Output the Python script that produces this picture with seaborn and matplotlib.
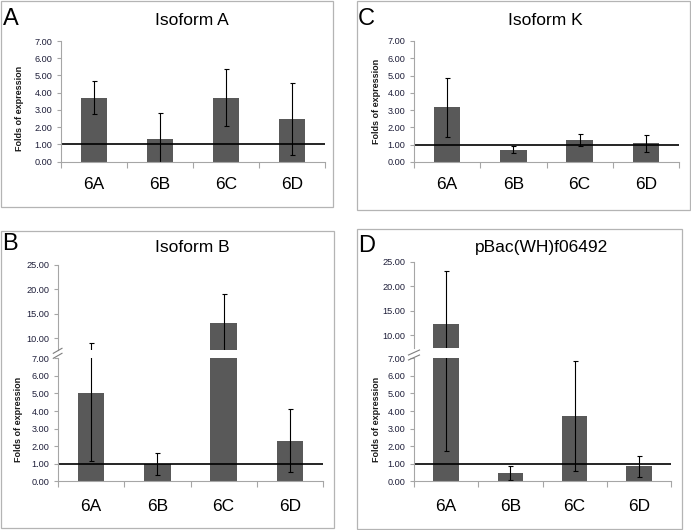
import numpy as np
import pandas as pd
import matplotlib
import matplotlib.pyplot as plt
import seaborn as sns
from matplotlib.lines import Line2D
from matplotlib.patches import Rectangle
from matplotlib.ticker import FormatStrFormatter

matplotlib.use('Agg')

# data
groups = ["6A", "6B", "6C", "6D"]

isoform_a = [3.72, 1.33, 3.72, 2.49]
isoform_a_err = [0.95, 1.47, 1.65, 2.08]

isoform_k = [3.16, 0.70, 1.25, 1.08]
isoform_k_err = [1.72, 0.20, 0.35, 0.50]

isoform_b = [5.04, 0.98, 13.14, 2.31]
isoform_b_err = [3.88, 0.61, 5.96, 1.78]

pbac = [12.40, 0.46, 3.73, 0.85]
pbac_err = [10.70, 0.39, 3.12, 0.60]

low_ticks = list(range(0, 8))
high_ticks = [10, 15, 20, 25]

BAR = "#595959"
AXIS = "#a6a6a6"
TICKTXT = "#1f1f3a"
W, H = 691, 530

plt.rcParams['font.family'] = ['Liberation Sans', 'DejaVu Sans']

fig = plt.figure(figsize=(W / 100, H / 100), dpi=100)


def rect(l, t, r, b):
    return [l / W, 1 - b / H, (r - l) / W, (b - t) / H]


def draw_bars(ax, vals, errs, ylim, ticks, bottom_axis=True):
    df = pd.DataFrame({"group": groups, "fold": vals})
    sns.barplot(data=df, x="group", y="fold", ax=ax, color=BAR, width=0.4,
                saturation=1, errorbar=None, linewidth=0)
    ax.errorbar(np.arange(len(groups)), vals, yerr=errs, fmt="none",
                ecolor="black", elinewidth=0.8, capsize=1.8, capthick=0.8)
    ax.set_facecolor("none")
    ax.set_xlim(-0.5, len(groups) - 0.5)
    ax.set_ylim(*ylim)
    ax.set_yticks(ticks)
    ax.yaxis.set_major_formatter(FormatStrFormatter("%.2f"))
    ax.tick_params(axis="y", left=True, length=3, width=0.8, color=AXIS,
                   labelsize=6.6, labelcolor=TICKTXT, pad=3)
    ax.set_xlabel("")
    ax.set_ylabel("")
    for s in ["top", "right"]:
        ax.spines[s].set_visible(False)
    ax.spines["left"].set_color(AXIS)
    ax.spines["left"].set_linewidth(0.8)
    if bottom_axis:
        ax.spines["bottom"].set_color(AXIS)
        ax.spines["bottom"].set_linewidth(0.8)
        ax.set_xticks(range(len(groups)))
        ax.set_xticklabels(groups)
        ax.set_xticks(np.arange(-0.5, len(groups), 1), minor=True)
        ax.tick_params(axis="x", which="major", length=0, labelsize=12.5, pad=11)
        ax.tick_params(axis="x", which="minor", bottom=True, length=4, width=0.8, color=AXIS)
        ax.axhline(1, color="black", lw=1.2)
    else:
        ax.spines["bottom"].set_visible(False)
        ax.set_xticks([])


def ylab(ax, x, y=0.5):
    ax.set_ylabel("Folds of expression", fontsize=6.5, fontweight="bold", color="#1a1a1a")
    ax.yaxis.set_label_coords(x, y)


# panel A
ax_a = fig.add_axes(rect(61, 41, 325, 161.7))
draw_bars(ax_a, isoform_a, isoform_a_err, (0, 7), low_ticks)
ylab(ax_a, -0.14, 0.44)

# panel C
ax_c = fig.add_axes(rect(414, 41, 679, 162))
draw_bars(ax_c, isoform_k, isoform_k_err, (0, 7), low_ticks)
ylab(ax_c, -0.125)

# panel B (broken axis)
ax_b_up = fig.add_axes(rect(58, 265, 323, 350.2))
draw_bars(ax_b_up, isoform_b, isoform_b_err, (7.5, 25), high_ticks, bottom_axis=False)
ax_b_lo = fig.add_axes(rect(58, 358.3, 323, 481.3))
draw_bars(ax_b_lo, isoform_b, isoform_b_err, (0, 7), low_ticks)
ax_b_lo.tick_params(axis="x", which="major", pad=13)
ylab(ax_b_lo, -0.132)

# panel D (broken axis)
ax_d_up = fig.add_axes(rect(414, 261.7, 671, 347.6))
draw_bars(ax_d_up, pbac, pbac_err, (7.5, 25), high_ticks, bottom_axis=False)
ax_d_lo = fig.add_axes(rect(414, 358.3, 671, 481.3))
draw_bars(ax_d_lo, pbac, pbac_err, (0, 7), low_ticks)
ax_d_lo.tick_params(axis="x", which="major", pad=13)
ylab(ax_d_lo, -0.128)

# break marks
for (x0, x1, y0) in [(53.3, 62, 353.3), (53.3, 62, 358.3), (408.5, 419.5, 355), (408.5, 419.5, 360)]:
    fig.add_artist(Line2D([x0 / W, x1 / W], [1 - y0 / H, 1 - (y0 - 5) / H],
                          color="#7f7f7f", lw=0.8))

# panel frames
for l, t, r, b in [(1, 1, 333, 207), (357, 1, 690, 210), (1, 231, 334, 528), (357, 229, 682, 529)]:
    fig.add_artist(Rectangle((l / W, 1 - b / H), (r - l) / W, (b - t) / H,
                             fill=False, edgecolor="#b4b4b4", lw=0.9))

# titles and panel letters
for txt, x, y in [("Isoform A", 192, 25), ("Isoform K", 545, 25),
                  ("Isoform B", 192, 251.5), ("pBac(WH)f06492", 542, 251.5)]:
    fig.text(x / W, 1 - y / H, txt, ha="center", va="baseline", fontsize=12.5)
for txt, x, y in [("A", 3, 25), ("C", 358, 25), ("B", 2, 250), ("D", 358, 252)]:
    fig.text(x / W, 1 - y / H, txt, ha="left", va="baseline", fontsize=17)

plt.savefig("out.png", dpi=100)
plt.close()
